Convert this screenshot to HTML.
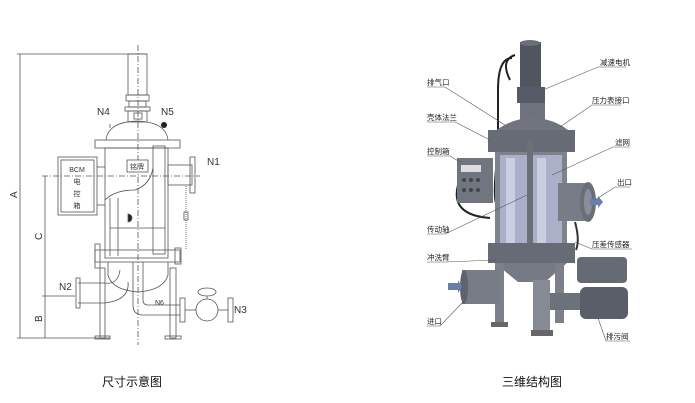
<!DOCTYPE html>
<html><head><meta charset="utf-8"><style>
html,body{margin:0;padding:0;background:#fff;}
svg{display:block;font-family:"Liberation Sans","Noto Sans CJK SC",sans-serif;}
</style></head><body>
<svg width="695" height="403" viewBox="0 0 695 403" xmlns="http://www.w3.org/2000/svg">
<rect width="695" height="403" fill="#fff"/>
<!-- LEFT DRAWING -->
<g stroke="#555" stroke-width="0.8" fill="none">
<line x1="17" y1="54" x2="147" y2="54"/>
<line x1="20" y1="54" x2="20" y2="338"/>
<line x1="17" y1="338" x2="110" y2="338"/>
<line x1="42" y1="176" x2="200" y2="176" stroke-dasharray="6,2,1,2"/>
<line x1="45" y1="176" x2="45" y2="338"/>
<line x1="42" y1="296" x2="75" y2="296"/>
<line x1="138" y1="45" x2="138" y2="345" stroke-dasharray="6,2,1,2"/>
<rect x="128" y="54" width="19" height="41"/>
<rect x="126" y="95" width="23" height="6"/>
<rect x="129" y="101" width="17" height="6"/>
<rect x="125" y="107" width="25" height="4"/>
<rect x="128" y="111" width="19" height="11"/>
<rect x="134" y="113" width="8" height="6"/>
<path d="M106 140 Q108 122 137 121 Q166 122 168 140"/>
<rect x="95" y="140" width="85" height="8"/>
<rect x="105" y="148" width="63" height="110"/>
<path d="M105 200 Q115 190 135 190 Q150 185 153 168"/>
<rect x="153" y="146" width="12" height="108"/>
<line x1="110" y1="198" x2="110" y2="256"/>
<line x1="118" y1="198" x2="118" y2="256"/>
<line x1="110" y1="228" x2="165" y2="228"/>
<path d="M128 214 a4 4 0 0 1 0 8 z" fill="#222"/>
<rect x="127" y="160" width="21" height="12" fill="#fff"/>
<rect x="168" y="165" width="24" height="20"/>
<rect x="190" y="157" width="5" height="36"/>
<rect x="58" y="157" width="39" height="58"/>
<rect x="61" y="160" width="33" height="52"/>
<line x1="97" y1="167" x2="105" y2="167"/><line x1="97" y1="205" x2="105" y2="205"/>
<rect x="95" y="250" width="85" height="12"/>
<rect x="95" y="244" width="5" height="24"/>
<rect x="175" y="248" width="6" height="16"/>
<path d="M108 262 L108 275 Q112 290 138 292 Q164 290 168 275 L168 262"/>
<path d="M78 283 L105 283 Q118 285 120 270 M78 303 L105 303 Q130 300 128 282"/>
<rect x="76" y="278" width="4" height="30"/>
<rect x="100" y="268" width="5" height="70"/><rect x="95" y="336" width="15" height="3"/>
<rect x="170" y="268" width="6" height="70"/><rect x="165" y="336" width="16" height="3"/>
<path d="M133 262 L133 305 Q133 315 143 315 L180 315 M143 262 L143 300 Q143 305 148 305 L180 305"/>
<rect x="180" y="298" width="5" height="24"/>
<circle cx="207" cy="310" r="11"/>
<rect x="228" y="298" width="5" height="24"/>
<line x1="185" y1="310" x2="196" y2="310"/><line x1="218" y1="310" x2="228" y2="310"/>
<ellipse cx="207" cy="292" rx="9" ry="4"/>
<line x1="207" y1="296" x2="207" y2="299"/>
<line x1="186" y1="186" x2="186" y2="250" stroke-dasharray="1,1"/>
<rect x="184" y="212" width="4" height="8"/>
<line x1="110" y1="124" x2="110" y2="128"/>
</g>
<circle cx="164" cy="125" r="3" fill="#222"/>
<g font-size="10" fill="#333">
<text x="97" y="115">N4</text><text x="161" y="115">N5</text>
<text x="207" y="165">N1</text><text x="59" y="290">N2</text>
<text x="234" y="313">N3</text><text x="155" y="305" font-size="7">N6</text>
</g>
<g font-size="7" fill="#333" text-anchor="middle">
<text x="77" y="172">BCM</text><text x="77" y="184">电</text><text x="77" y="196">控</text><text x="77" y="208">箱</text>
<text x="137" y="169">铭牌</text>
</g>
<g font-size="10" fill="#333">
<text transform="translate(17,198) rotate(-90)">A</text>
<text transform="translate(42,240) rotate(-90)">C</text>
<text transform="translate(42,322) rotate(-90)">B</text>
</g>
<!-- RIGHT 3D -->
<g>
<path d="M510 80 Q500 60 515 55" stroke="#222" stroke-width="2" fill="none"/>
<path d="M512 58 Q498 58 498 90 L498 150 Q492 200 497 205 M458 185 Q450 215 490 218" stroke="#222" stroke-width="2" fill="none"/>
<rect x="520" y="42" width="21" height="45" fill="#505560"/>
<ellipse cx="530" cy="43" rx="10" ry="3" fill="#6a6f7a"/>
<rect x="517" y="87" width="28" height="16" fill="#555a66"/>
<rect x="520" y="103" width="25" height="20" fill="#6d727c"/>
<path d="M490 135 Q510 118 532 118 Q556 118 574 135 Z" fill="#70747e"/>
<rect x="488" y="130" width="87" height="22" fill="#676b75"/>
<rect x="495" y="152" width="72" height="98" fill="#7d828d"/>
<rect x="500" y="155" width="62" height="90" fill="#a9b0c8"/>
<rect x="506" y="158" width="9" height="85" fill="#c9cee0"/>
<rect x="537" y="158" width="9" height="85" fill="#c9cee0"/>
<rect x="527" y="140" width="6" height="110" fill="#6b6f78"/>
<rect x="488" y="243" width="87" height="20" fill="#676b75"/>
<path d="M495 263 L567 263 L545 282 L518 282 Z" fill="#767a84"/>
<rect x="495" y="263" width="9" height="62" fill="#7c808a"/>
<rect x="533" y="280" width="17" height="55" fill="#858a94"/>
<rect x="555" y="263" width="9" height="60" fill="#7c808a"/>
<rect x="491" y="322" width="17" height="5" fill="#666"/>
<rect x="531" y="330" width="22" height="6" fill="#666"/>
<rect x="462" y="270" width="38" height="34" fill="#787c86"/>
<ellipse cx="464" cy="287" rx="4" ry="17" fill="#5f636d"/>
<path d="M448 283 L458 283 L458 280 L462 287 L458 293 L458 290 L448 290Z" fill="#6a7fa8"/>
<rect x="558" y="183" width="30" height="38" fill="#787c86"/>
<ellipse cx="588" cy="202" rx="8" ry="20" fill="#6a6e78"/>
<ellipse cx="588" cy="202" rx="4" ry="13" fill="#8a8e98"/>
<path d="M590 199 L598 199 L598 196 L603 202 L598 208 L598 205 L590 205Z" fill="#6a7fa8"/>
<rect x="457" y="158" width="36" height="45" fill="#71757f"/>
<rect x="461" y="165" width="20" height="7" fill="#ddd"/>
<g fill="#444"><circle cx="464" cy="180" r="2"/><circle cx="471" cy="180" r="2"/><circle cx="478" cy="180" r="2"/><circle cx="464" cy="190" r="2"/><circle cx="471" cy="190" r="2"/><circle cx="478" cy="190" r="2"/></g>
<rect x="550" y="293" width="30" height="17" fill="#6d717b"/>
<rect x="577" y="257" width="50" height="26" rx="4" fill="#666a74"/>
<rect x="580" y="287" width="48" height="32" rx="6" fill="#5a5e68"/>
<path d="M575 222 Q580 240 576 250" stroke="#333" stroke-width="2" fill="none"/>
</g>
<g stroke="#555" stroke-width="0.6" fill="none">
<path d="M626 67 L598 67 L543 90"/>
<path d="M621 105 L592 105 L560 127"/>
<path d="M630 147 L613 147 L552 175"/>
<path d="M630 187 L615 187 L595 200"/>
<path d="M632 249 L592 249 L575 242"/>
<path d="M630 341 L606 341 L598 318"/>
<path d="M427 87 L445 87 L505 125"/>
<path d="M427 122 L455 122 L490 140"/>
<path d="M427 156 L450 156 L460 162"/>
<path d="M427 234 L445 234 L527 195"/>
<path d="M427 262 L445 262 L497 260"/>
<path d="M427 326 L440 326 L463 302"/>
</g>
<g font-size="7.5" fill="#222">
<text x="600" y="65">减速电机</text><text x="592" y="103">压力表接口</text>
<text x="615" y="145">滤网</text><text x="617" y="185">出口</text>
<text x="592" y="247">压差传感器</text><text x="606" y="339">排污阀</text>
<text x="427" y="85">排气口</text><text x="427" y="120">壳体法兰</text>
<text x="427" y="154">控制箱</text><text x="427" y="232">传动轴</text>
<text x="427" y="260">冲洗臂</text><text x="427" y="324">进口</text>
</g>
<g font-size="12" fill="#111">
<text x="102" y="386">尺寸示意图</text>
<text x="502" y="386">三维结构图</text>
</g>
</svg>
</body></html>
